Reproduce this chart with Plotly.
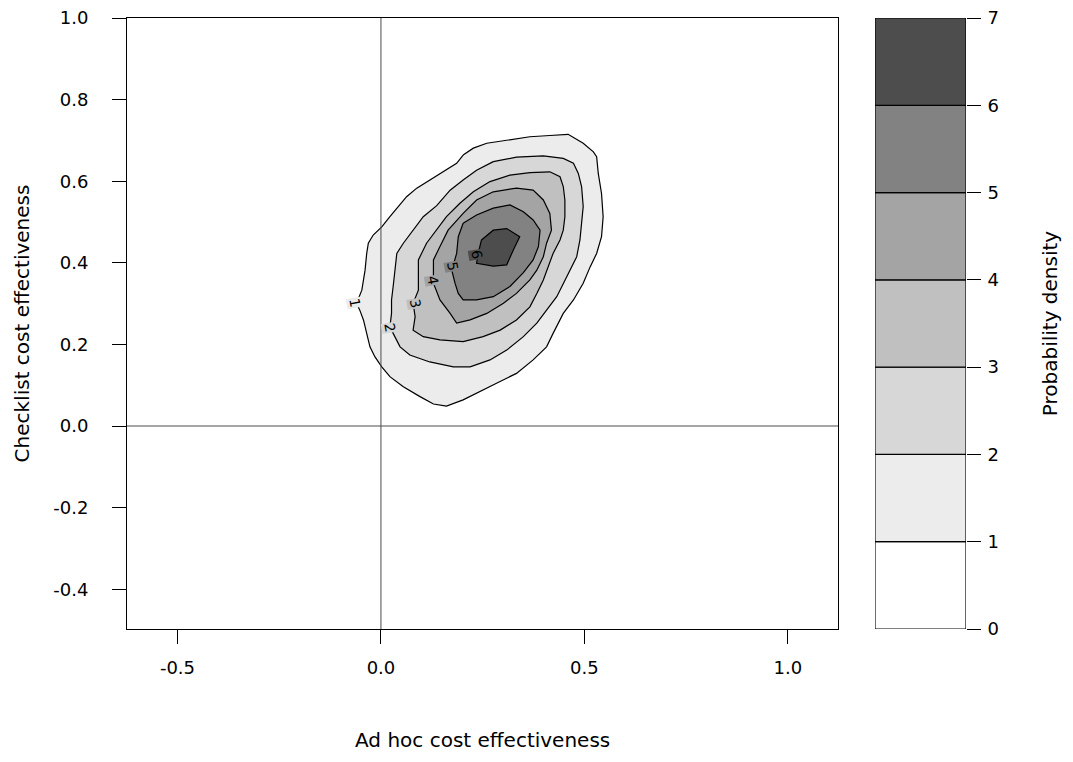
import plotly.graph_objects as go

# ---- data (density contour polygons, data units) ----
levels = [1, 2, 3, 4, 5, 6]
band_colors = ["#FFFFFF", "#ECECEC", "#D7D7D7", "#C0C0C0", "#A4A4A4", "#828282", "#4D4D4D"]
band_edges = [0, 1, 2, 3, 4, 5, 6, 7]

c1_x = [0.202, 0.227, 0.260, 0.309, 0.366, 0.415, 0.460, 0.497, 0.522, 0.530, 0.534, 0.542, 0.546, 0.542,
        0.530, 0.514, 0.497, 0.473, 0.448, 0.423, 0.407, 0.374, 0.333, 0.284, 0.235, 0.202, 0.161, 0.129,
        0.096, 0.055, 0.022, 0.002, -0.015, -0.027, -0.035, -0.043, -0.052, -0.060, -0.047, -0.043, -0.039,
        -0.035, -0.031, -0.019, 0.002, 0.022, 0.039, 0.063, 0.088, 0.120, 0.153, 0.186]
c1_y = [0.664, 0.681, 0.693, 0.701, 0.709, 0.712, 0.715, 0.693, 0.672, 0.660, 0.619, 0.570, 0.513, 0.464,
        0.423, 0.390, 0.350, 0.309, 0.276, 0.227, 0.194, 0.162, 0.129, 0.105, 0.080, 0.064, 0.049, 0.054,
        0.072, 0.096, 0.121, 0.145, 0.170, 0.194, 0.227, 0.260, 0.284, 0.301, 0.333, 0.358, 0.382,
        0.423, 0.448, 0.468, 0.488, 0.513, 0.534, 0.562, 0.583, 0.603, 0.623, 0.644]

c2_x = [0.276, 0.333, 0.399, 0.448, 0.473, 0.485, 0.493, 0.497, 0.493, 0.489, 0.481, 0.464, 0.448, 0.432,
        0.407, 0.383, 0.350, 0.309, 0.268, 0.219, 0.178, 0.120, 0.071, 0.047, 0.030, 0.022, 0.026, 0.026,
        0.030, 0.034, 0.039, 0.055, 0.079, 0.104, 0.137, 0.170, 0.202, 0.235]
c2_y = [0.648, 0.659, 0.662, 0.656, 0.644, 0.619, 0.587, 0.538, 0.497, 0.456, 0.415, 0.382, 0.350, 0.317,
        0.284, 0.252, 0.219, 0.186, 0.162, 0.145, 0.145, 0.157, 0.174, 0.194, 0.227, 0.243, 0.276, 0.309,
        0.342, 0.382, 0.423, 0.448, 0.480, 0.513, 0.540, 0.578, 0.603, 0.627]

c3_x = [0.268, 0.317, 0.366, 0.415, 0.440, 0.448, 0.452, 0.452, 0.448, 0.440, 0.423, 0.411, 0.399, 0.383,
        0.366, 0.333, 0.293, 0.251, 0.202, 0.145, 0.104, 0.079, 0.084, 0.079, 0.092, 0.092, 0.092, 0.112,
        0.137, 0.161, 0.194, 0.227]
c3_y = [0.599, 0.615, 0.621, 0.623, 0.611, 0.587, 0.554, 0.513, 0.480, 0.456, 0.423, 0.390, 0.358, 0.325,
        0.292, 0.260, 0.235, 0.219, 0.207, 0.211, 0.219, 0.235, 0.268, 0.301, 0.333, 0.366, 0.407, 0.448,
        0.480, 0.513, 0.546, 0.574]

c4_x = [0.276, 0.333, 0.374, 0.399, 0.415, 0.419, 0.407, 0.399, 0.383, 0.366, 0.333, 0.301, 0.260, 0.219,
        0.186, 0.170, 0.145, 0.129, 0.129, 0.129, 0.145, 0.165, 0.202, 0.235]
c4_y = [0.574, 0.583, 0.578, 0.554, 0.521, 0.480, 0.448, 0.415, 0.382, 0.358, 0.325, 0.301, 0.276, 0.260,
        0.252, 0.276, 0.309, 0.350, 0.370, 0.407, 0.440, 0.480, 0.521, 0.554]

c5_x = [0.202, 0.235, 0.276, 0.317, 0.350, 0.374, 0.391, 0.387, 0.374, 0.350, 0.317, 0.276, 0.235, 0.202,
        0.190, 0.182, 0.174, 0.186, 0.190]
c5_y = [0.497, 0.517, 0.534, 0.542, 0.525, 0.505, 0.480, 0.440, 0.407, 0.376, 0.342, 0.317, 0.309, 0.309,
        0.325, 0.350, 0.382, 0.423, 0.464]

c6_x = [0.247, 0.276, 0.309, 0.341, 0.325, 0.309, 0.276, 0.235, 0.239]
c6_y = [0.456, 0.480, 0.484, 0.464, 0.431, 0.395, 0.392, 0.399, 0.423]

label_x = [-0.064, 0.022, 0.084, 0.128, 0.177, 0.236]
label_y = [0.301, 0.240, 0.301, 0.358, 0.390, 0.419]

x_ticks = [-0.5, 0.0, 0.5, 1.0]
x_ticktext = ["-0.5", "0.0", "0.5", "1.0"]
y_ticks = [-0.4, -0.2, 0.0, 0.2, 0.4, 0.6, 0.8, 1.0]
y_ticktext = ["-0.4", "-0.2", "0.0", "0.2", "0.4", "0.6", "0.8", "1.0"]
x_range = [-0.624, 1.123]
y_range = [-0.4975, 1.0]

FONT = "DejaVu Sans"
fig = go.Figure()

contours = [(c1_x, c1_y), (c2_x, c2_y), (c3_x, c3_y), (c4_x, c4_y), (c5_x, c5_y), (c6_x, c6_y)]
for i, (cx, cy) in enumerate(contours):
    fig.add_trace(go.Scatter(
        x=cx + [cx[0]], y=cy + [cy[0]], mode="lines", fill="toself",
        fillcolor=band_colors[levels[i]], line=dict(color="black", width=1.2),
        hoverinfo="skip", showlegend=False))

# reference lines at zero
fig.add_trace(go.Scatter(x=[0, 0], y=y_range, mode="lines",
                         line=dict(color="#4d4d4d", width=1), showlegend=False, hoverinfo="skip"))
fig.add_trace(go.Scatter(x=x_range, y=[0, 0], mode="lines",
                         line=dict(color="#4d4d4d", width=1), showlegend=False, hoverinfo="skip"))

# colour key as one bar trace with stacked segments
fig.add_trace(go.Bar(x=[0] * 7, y=[band_edges[i + 1] - band_edges[i] for i in range(7)],
                     base=band_edges[:-1], width=1,
                     marker=dict(color=band_colors, line=dict(color="black", width=1.2)),
                     xaxis="x2", yaxis="y2", showlegend=False, hoverinfo="skip"))

for i, lv in enumerate(levels):
    fig.add_annotation(x=label_x[i], y=label_y[i], text=str(lv), showarrow=False,
                       textangle=80, font=dict(family=FONT, size=14, color="black"),
                       bgcolor=band_colors[lv], borderpad=0)

# x-axis title as a paper annotation (keeps it inside the page)
fig.add_annotation(x=0.8474 / 2, y=0, xref="paper", yref="paper", xanchor="center", yanchor="middle",
                   yshift=-111, showarrow=False, text="Ad hoc cost effectiveness",
                   font=dict(family=FONT, size=20, color="black"))

axis_common = dict(showgrid=False, zeroline=False, showline=True, linecolor="black", linewidth=1,
                   ticks="outside", ticklen=14, tickcolor="black", tickwidth=1, automargin=False,
                   ticklabeloverflow="allow",
                   tickfont=dict(family=FONT, size=18, color="black"))

fig.update_layout(
    width=1057, height=746,
    margin=dict(l=119, r=99, t=10, b=125, autoexpand=False),
    paper_bgcolor="white", plot_bgcolor="white",
    font=dict(family=FONT, size=18, color="black"),
    barmode="overlay",
    xaxis=dict(domain=[0, 0.8474], range=x_range, tickvals=x_ticks, ticktext=x_ticktext,
               mirror=True, ticklabelstandoff=8, **axis_common),
    yaxis=dict(range=y_range, tickvals=y_ticks, ticktext=y_ticktext, mirror=True,
               ticklabelstandoff=20,
               title=dict(text="Checklist cost effectiveness", standoff=18,
                          font=dict(family=FONT, size=20)), **axis_common),
    xaxis2=dict(domain=[0.8915, 1.0], range=[-0.5, 0.5], visible=False, anchor="y2"),
    yaxis2=dict(anchor="x2", side="right", range=[0, 7], tickvals=band_edges,
                showgrid=False, zeroline=False, showline=False, automargin=False,
                ticklabeloverflow="allow",
                ticks="outside", ticklen=14, tickcolor="black",
                tickfont=dict(family=FONT, size=18, color="black"), ticklabelstandoff=3,
                title=dict(text="Probability density", standoff=44,
                           font=dict(family=FONT, size=20))),
)

fig.write_html("out.html")
